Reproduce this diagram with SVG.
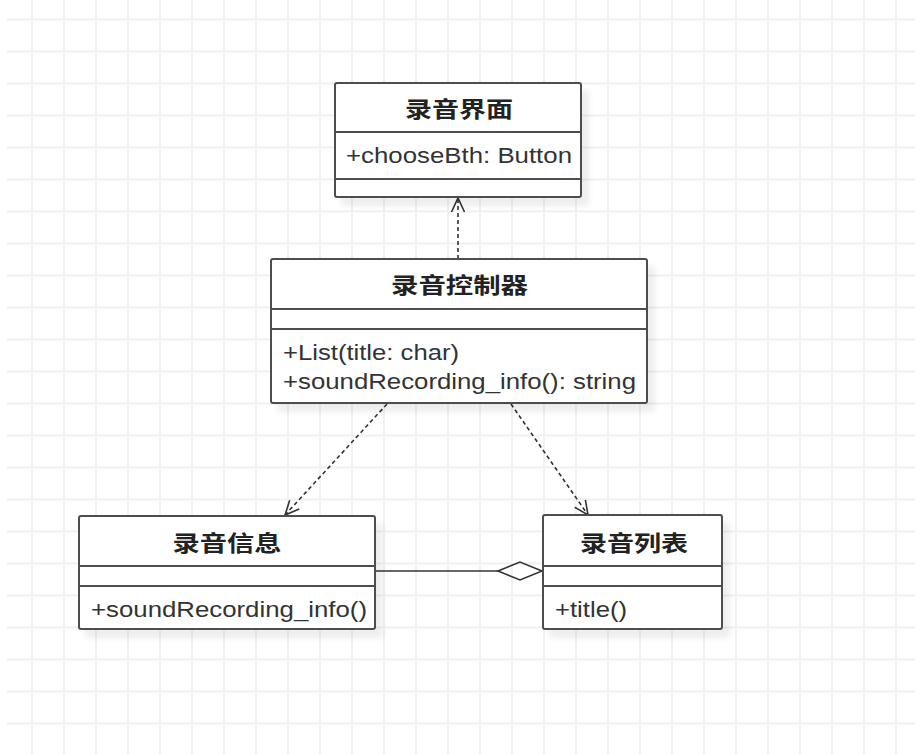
<svg xmlns="http://www.w3.org/2000/svg" width="915" height="754" viewBox="0 0 915 754">
<style>
.grid{fill:none;stroke:#f0f0f0;stroke-width:1.8}
.box{fill:#fff;stroke:#4d4d4d;stroke-width:2}
.div{stroke:#4d4d4d;stroke-width:2}
.title{font-family:"Noto Sans CJK SC","Noto Sans CJK TC",sans-serif;font-weight:bold;font-size:22px;fill:#222;text-anchor:middle}
.attr{font-family:"Liberation Sans","Noto Sans CJK SC",sans-serif;font-size:22px;fill:#333}
.dep{fill:none;stroke:#333;stroke-width:1.6;stroke-dasharray:4 3}
.assoc{fill:none;stroke:#333;stroke-width:1.6}
</style>
<defs>
<filter id="sh" x="-10%" y="-10%" width="130%" height="140%">
<feGaussianBlur in="SourceAlpha" stdDeviation="3"/>
<feOffset dx="7" dy="8" result="b"/>
<feComponentTransfer><feFuncA type="linear" slope="0.07"/></feComponentTransfer>
<feMerge><feMergeNode/><feMergeNode in="SourceGraphic"/></feMerge>
</filter>
<marker id="open" viewBox="-16 -9 18 18" refX="0" refY="0" markerWidth="18" markerHeight="18" markerUnits="userSpaceOnUse" orient="auto">
<path d="M-14,-6.5 L0,0 L-14,6.5" fill="none" stroke="#333" stroke-width="1.6" stroke-dasharray="none"/>
</marker>
</defs>
<rect width="915" height="754" fill="#fff"/>
<path class="grid" d="M32 0V754M64 0V754M96 0V754M128 0V754M160 0V754M192 0V754M224 0V754M256 0V754M288 0V754M320 0V754M352 0V754M384 0V754M416 0V754M448 0V754M480 0V754M512 0V754M544 0V754M576 0V754M608 0V754M640 0V754M672 0V754M704 0V754M736 0V754M768 0V754M800 0V754M832 0V754M864 0V754M896 0V754"/>
<path class="grid" d="M7 19.5H915M7 51.5H915M7 83.5H915M7 115.5H915M7 147.5H915M7 179.5H915M7 211.5H915M7 243.5H915M7 275.5H915M7 307.5H915M7 339.5H915M7 371.5H915M7 403.5H915M7 435.5H915M7 467.5H915M7 499.5H915M7 531.5H915M7 563.5H915M7 595.5H915M7 627.5H915M7 659.5H915M7 691.5H915M7 723.5H915"/>

<g id="connectors">
<line class="dep" x1="458" y1="259" x2="458" y2="198" marker-end="url(#open)"/>
<line class="dep" x1="387" y1="404" x2="285" y2="515" marker-end="url(#open)"/>
<line class="dep" x1="511" y1="404" x2="588" y2="515" marker-end="url(#open)"/>
<line class="assoc" x1="375" y1="571" x2="498" y2="571"/>
<polygon class="assoc" points="542,571 520,562 498,571 520,580" fill="#fff"/>
</g>

<g id="recording-ui">
<rect class="box" x="335" y="83" width="246" height="114" rx="2" filter="url(#sh)"/>
<line class="div" x1="335" y1="132" x2="581" y2="132"/>
<line class="div" x1="335" y1="179" x2="581" y2="179"/>
<text class="title" x="459" y="117" textLength="108" lengthAdjust="spacingAndGlyphs">录音界面</text>
<text class="attr" x="346" y="163" textLength="226" lengthAdjust="spacingAndGlyphs">+chooseBth: Button</text>
</g>

<g id="recording-controller">
<rect class="box" x="271" y="259" width="376" height="144" rx="2" filter="url(#sh)"/>
<line class="div" x1="271" y1="309" x2="647" y2="309"/>
<line class="div" x1="271" y1="329" x2="647" y2="329"/>
<text class="title" x="459.5" y="293" textLength="137" lengthAdjust="spacingAndGlyphs">录音控制器</text>
<text class="attr" x="283" y="360" textLength="176" lengthAdjust="spacingAndGlyphs">+List(title: char)</text>
<text class="attr" x="283" y="389" textLength="353" lengthAdjust="spacingAndGlyphs">+soundRecording_info(): string</text>
</g>

<g id="recording-info">
<rect class="box" x="79" y="516" width="296" height="113" rx="2" filter="url(#sh)"/>
<line class="div" x1="79" y1="566" x2="375" y2="566"/>
<line class="div" x1="79" y1="586" x2="375" y2="586"/>
<text class="title" x="227" y="551" textLength="109" lengthAdjust="spacingAndGlyphs">录音信息</text>
<text class="attr" x="91" y="617" textLength="276" lengthAdjust="spacingAndGlyphs">+soundRecording_info()</text>
</g>

<g id="recording-list">
<rect class="box" x="543" y="515" width="179" height="114" rx="2" filter="url(#sh)"/>
<line class="div" x1="543" y1="566" x2="722" y2="566"/>
<line class="div" x1="543" y1="586" x2="722" y2="586"/>
<text class="title" x="634" y="551" textLength="108" lengthAdjust="spacingAndGlyphs">录音列表</text>
<text class="attr" x="555" y="617" textLength="72" lengthAdjust="spacingAndGlyphs">+title()</text>
</g>
</svg>
